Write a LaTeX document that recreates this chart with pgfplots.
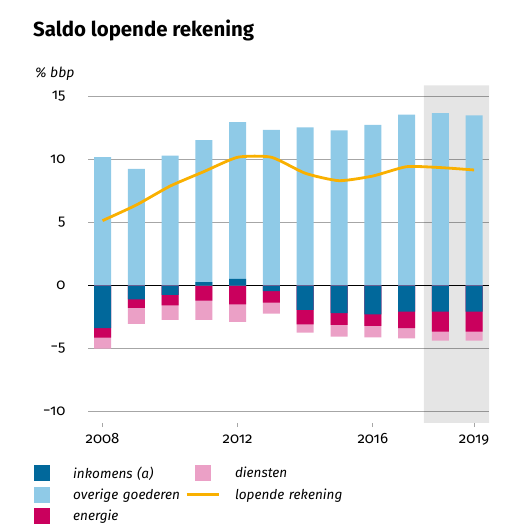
\documentclass[border=0pt]{standalone}
\usepackage{fontspec}
\setmainfont[Numbers={OldStyle,Proportional}]{Fira Sans}
\usepackage{pgfplots}
\usepackage{pgfplotstable}
\pgfplotsset{compat=1.18}
\definecolor{inkomens}{HTML}{01689B}
\definecolor{overige}{HTML}{8FCAE7}
\definecolor{energie}{HTML}{CA005D}
\definecolor{diensten}{HTML}{EBA0C6}
\definecolor{lopende}{HTML}{F9B000}
\definecolor{gridgray}{HTML}{A6A6A6}

% pos = top of positive stack, ink = inkomens, ene/die = cumulative lower ends
\pgfplotstableread{
year pos   ink   ene   die   line
2008 10.19 -3.38 -4.13 -5.00 5.16
2009 9.26  -1.08 -1.77 -3.04 6.40
2010 10.32 -0.74 -1.56 -2.72 7.90
2011 11.54 0.27  -1.19 -2.72 9.05
2012 12.97 0.53  -1.48 -2.88 10.19
2013 12.36 -0.44 -1.35 -2.22 10.19
2014 12.57 -1.93 -3.07 -3.73 8.92
2015 12.33 -2.19 -3.12 -4.05 8.33
2016 12.75 -2.27 -3.20 -4.10 8.70
2017 13.57 -2.06 -3.38 -4.18 9.44
2018 13.70 -2.06 -3.65 -4.37 9.37
2019 13.52 -2.06 -3.65 -4.37 9.18
}\data

\begin{document}
\begin{tikzpicture}
\path (0bp,0bp) rectangle (532bp,532bp);
\node[anchor=base west, inner sep=0pt, font=\fontsize{20.5}{23}\selectfont\bfseries] at (33bp,495bp) {Saldo lopende rekening};
\node[anchor=base west, inner sep=0pt, font=\fontsize{14}{16}\selectfont\itshape] at (35bp,454bp) {\% bbp};
\begin{axis}[
  at={(88bp,109bp)}, anchor=south west,
  scale only axis, width=401bp, height=337.7bp,
  xmin=2007.57, xmax=2019.44, ymin=-10.9, ymax=15.9,
  axis line style={draw=none},
  ytick={-10,-5,0,5,10,15},
  yticklabels={−10,−5,0,5,10,15},
  ytick style={draw=none},
  yticklabel style={font=\fontsize{15}{17}\selectfont, xshift=-15bp},
  ymajorgrids,
  grid style={gridgray, line width=0.9bp},
  extra y ticks={0},
  extra y tick labels={},
  extra y tick style={grid style={black, line width=1.6bp}},
  xtick={2008,2012,2016,2019},
  xticklabels={2008,2012,2016,2019},
  xtick pos=bottom,
  tick align=outside,
  major tick length=4bp,
  xtick style={gridgray, line width=0.7bp},
  xticklabel style={font=\fontsize{15}{17}\selectfont, anchor=base, yshift=-16bp},
  legend columns=2,
  legend style={draw=none, fill=none, at={(-0.1546,-0.1244)}, anchor=north west,
    inner sep=0pt, row sep=5.5bp,
    nodes={inner sep=0pt, text width=112bp, font=\fontsize{13.6}{15}\selectfont\itshape},
    /tikz/every odd column/.append style={column sep=15bp}},
]
\addplot[fill=black, fill opacity=0.1, draw=none, forget plot]
  coordinates {(2017.51,-10.9) (2019.44,-10.9) (2019.44,15.9) (2017.51,15.9) (2017.51,-10.9)};
\addplot[ybar, bar width=17bp, bar shift=0pt, fill=overige, draw=none, forget plot] table[x=year,y=pos]{\data};
\addplot[ybar, bar width=17bp, bar shift=0pt, fill=diensten, draw=none, forget plot] table[x=year,y=die]{\data};
\addplot[ybar, bar width=17bp, bar shift=0pt, fill=energie, draw=none, forget plot] table[x=year,y=ene]{\data};
\addplot[ybar, bar width=17bp, bar shift=0pt, fill=inkomens, draw=none, forget plot] table[x=year,y=ink]{\data};
\addplot[lopende, line width=2.8bp, smooth, tension=0.35, mark=none, forget plot] table[x=year,y=line]{\data};

\addlegendimage{legend image code/.code={\path[draw=none,fill=none] (-8bp,-8bp) rectangle (24bp,8bp); \fill[inkomens, draw=none] (0bp,-8bp) rectangle (16bp,8bp);}}
\addlegendentry{inkomens (a)}
\addlegendimage{legend image code/.code={\path[draw=none,fill=none] (-8bp,-8bp) rectangle (24bp,8bp); \fill[diensten, draw=none] (0bp,-8bp) rectangle (16bp,8bp);}}
\addlegendentry{diensten}
\addlegendimage{legend image code/.code={\path[draw=none,fill=none] (-8bp,-8bp) rectangle (24bp,8bp); \fill[overige, draw=none] (0bp,-8bp) rectangle (16bp,8bp);}}
\addlegendentry{overige goederen}
\addlegendimage{legend image code/.code={\path[draw=none,fill=none] (-8bp,-8bp) rectangle (24bp,8bp); \draw[lopende, line width=2.8bp] (-8bp,0bp) -- (24bp,0bp);}}
\addlegendentry{lopende rekening}
\addlegendimage{legend image code/.code={\path[draw=none,fill=none] (-8bp,-8bp) rectangle (24bp,8bp); \fill[energie, draw=none] (0bp,-8bp) rectangle (16bp,8bp);}}
\addlegendentry{energie}
\end{axis}
\end{tikzpicture}
\end{document}
